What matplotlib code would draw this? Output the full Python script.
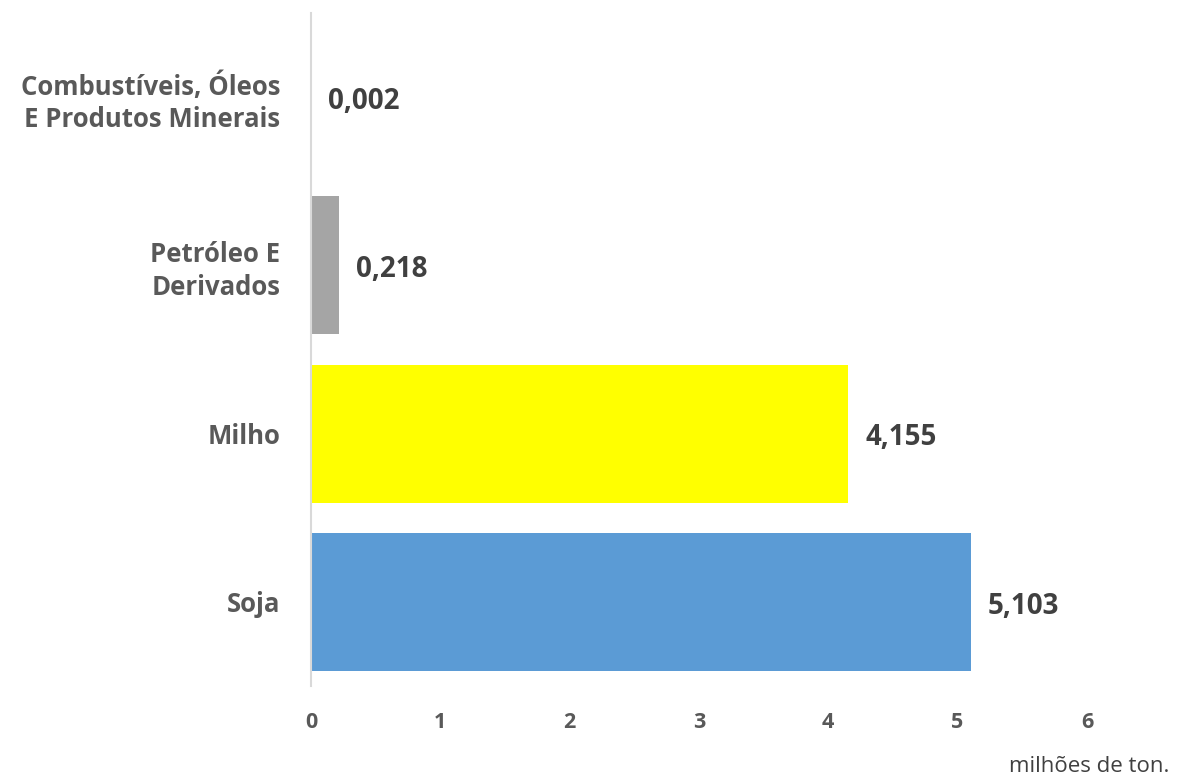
import matplotlib
matplotlib.use("Agg")
import matplotlib.pyplot as plt

categories = ["Soja", "Milho", "Petróleo E\nDerivados", "Combustíveis, Óleos\nE Produtos Minerais"]
values = [5.103, 4.155, 0.218, 0.002]
value_labels = ["5,103", "4,155", "0,218", "0,002"]
colors = ["#5B9BD5", "#FFFF00", "#A5A5A5", "#A5A5A5"]
x_ticks = [0, 1, 2, 3, 4, 5, 6]
unit_label = "milhões de ton."

plt.rcParams['font.family'] = ['Open Sans', 'DejaVu Sans']
text_color = "#595959"

fig = plt.figure(figsize=(11.78, 7.82), dpi=100)
ax = fig.add_axes([0.264, 0.1228, 0.6587, 0.8606])
y = list(range(len(categories)))
ax.barh(y, values, height=0.82, color=colors)
ax.set_xlim(0, 6)
ax.set_ylim(-0.5, 3.5)
for s in ["top", "right", "bottom"]:
    ax.spines[s].set_visible(False)
ax.spines["left"].set_color("#D9D9D9")
ax.spines["left"].set_linewidth(1.5)
ax.set_yticks(y)
ax.set_yticklabels(categories, fontsize=18.5, fontweight="bold", color=text_color,
                   linespacing=1.25)
ax.set_xticks(x_ticks)
ax.set_xticklabels([str(t) for t in x_ticks], fontsize=15.5, fontweight="bold", color=text_color)
ax.tick_params(axis="both", length=0)
ax.tick_params(axis="y", pad=22)
ax.tick_params(axis="x", pad=19)
for yi, v, lab in zip(y, values, value_labels):
    ax.annotate(lab, xy=(v, yi), xytext=(12, -3), textcoords="offset points",
                ha="left", va="center", fontsize=20, fontweight="bold", color="#404040")
fig.text(0.925, 0.006, unit_label, ha="center", va="bottom", fontsize=16, color="#404040")
fig.savefig("out.png", dpi=100)
